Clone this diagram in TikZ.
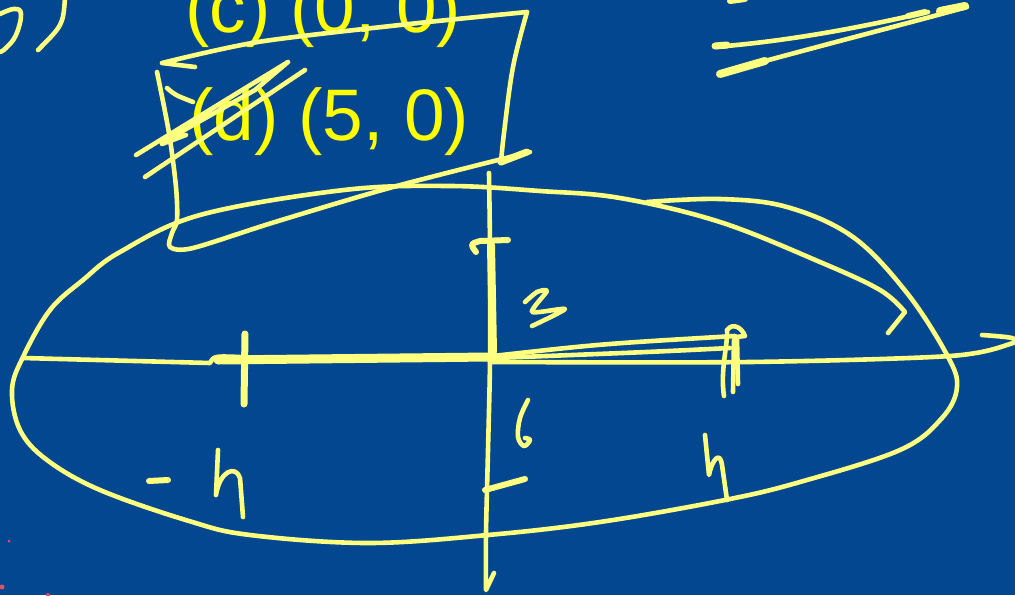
\documentclass[tikz,border=0pt]{standalone}
\usepackage{fontspec}
\setmainfont{Liberation Sans}
\definecolor{bg}{RGB}{4,71,145}
\definecolor{chalk}{RGB}{255,255,128}
\definecolor{txt}{RGB}{255,255,0}
\definecolor{dotred}{RGB}{220,80,110}
\begin{document}
\begin{tikzpicture}[x=1pt,y=-1pt,
  ink/.style={draw=chalk,line width=4.6pt,line cap=round,line join=round},
  lbl/.style={text=txt,inner sep=0pt,font=\fontsize{73pt}{87pt}\selectfont}]
\fill[bg] (0,0) rectangle (1015,595);
\useasboundingbox (0,0) rectangle (1015,595);
\clip (0,0) rectangle (1015,595);

% texts
\node[lbl,anchor=base west] (c) at (185,32) {(c) (0, 0)};
\node[lbl,anchor=base west] (d) at (189,140) {(d) (5, 0)};

% top-left "0)"
\draw[ink] plot[smooth,tension=0.7] coordinates {(0,14)(14,9)(21,14)(16,35)(6,48)(0,52)};
\draw[ink] (65,-2) .. controls (63,25) .. (38,50);

% box around (d)
\draw[ink] (195,67) -- (162,63) plot[smooth,tension=0.5] coordinates {(162,63)(258,42)(400,25)(527,12)};
\draw[ink] plot[smooth,tension=0.6] coordinates {(527,12)(513,67)(504,133)(501,163)};
\draw[ink,line width=7pt] (501,162) -- (527,152);
\draw[ink] plot[smooth,tension=0.5] coordinates {(530,152)(393,187)(275,222)(193,248)(170,247)(172,233)(177,220)(176,187)(169,133)(157,72)};
\draw[ink] (167,88) .. controls (175,95) .. (193,102);

% cross-out
\draw[ink] (136,155) -- (288,62) -- (255,90) -- (179,133) -- (162,144) -- (186,135);
\draw[ink] (145,177) -- (305,70);

% ellipse with inner hook
\draw[ink] plot[smooth,tension=0.6] coordinates {(647,202)(720,199)(787,207)(853,237)(907,293)(947,355)(957,387)(942,418)(900,450)(800,482)(725,500)(600,522)(488,535)(368,543)(250,535)(189,521)(100,490)(47,460)(20,430)(12,390)(23,357)(50,310)(83,280)(120,252)(200,215)(344,190)(450,186)(540,191)(620,198)(720,222)(820,262)(880,290)(905,312)} -- (888,333);

% horizontal axis
\draw[ink] (23,358) -- (210,363) .. controls (214,356) .. (240,357);
\draw[ink,line width=9pt] (218,360) -- (490,357);
\draw[ink] plot[smooth,tension=0.5] coordinates {(490,362)(750,362)(950,356)(1010,344)(1012,338)(982,335)};
\draw[ink] (493,356) .. controls (600,344) .. (735,336);
\draw[ink] (495,358) .. controls (650,352) .. (730,348);

% left marker
\draw[ink,line width=7pt] (245,334) -- (244,404);

% vertical axis
\draw[ink] plot[smooth,tension=0.5] coordinates {(489,173)(490,250)(490,360)(488,450)(486,533)(486,590)} -- (494,573);
\draw[ink,line width=8pt] (491,245) -- (493,352);
\draw[ink,line width=6pt] (476,252) .. controls (470,244) .. (480,241) -- (508,240);
\draw[ink,line width=6pt] (485,490) -- (525,479);

% right marker
\draw[ink] (724,396) .. controls (720,370) and (728,345) .. (727,330) .. controls (733,322) and (742,328) .. (745,336) -- (736,337);
\draw[ink] (733,392) -- (734,340);
\draw[ink] (738,384) -- (737,338);

% labels
\draw[ink] plot[smooth,tension=0.4] coordinates {(525,302)(537,292)(547,291)(532,312)(565,309)(532,326)};
\draw[ink] plot[smooth,tension=0.6] coordinates {(528,400)(520,418)(518,437)(524,446)(530,440)(525,438)};
\draw[ink] (705,435) -- (709,475) .. controls (712,460) and (720,450) .. (722,465) -- (727,500);
\draw[ink] (218,450) -- (216,495) .. controls (220,470) and (236,465) .. (240,478) -- (243,517);
\draw[ink,line width=6pt] (149,481) -- (168,480);

% top-right scribbles
\draw[ink,line width=6pt] (730,1) -- (745,-1);
\draw[ink,line width=7pt] (715,46) -- (727,45);
\draw[ink] (715,47) .. controls (800,40) and (870,25) .. (928,12);
\draw[ink,line width=6pt] (908,16) -- (925,12);
\draw[ink,line width=8pt] (720,74) -- (765,61);
\draw[ink] (765,61) .. controls (850,38) and (920,20) .. (967,7);
\draw[ink,line width=8pt] (940,11) -- (965,6);

% tiny dots
\fill[dotred] (9,541) circle (1.5);
\fill[dotred] (2,587) circle (2.5);
\fill[dotred] (48,595) circle (2);
\end{tikzpicture}
\end{document}
